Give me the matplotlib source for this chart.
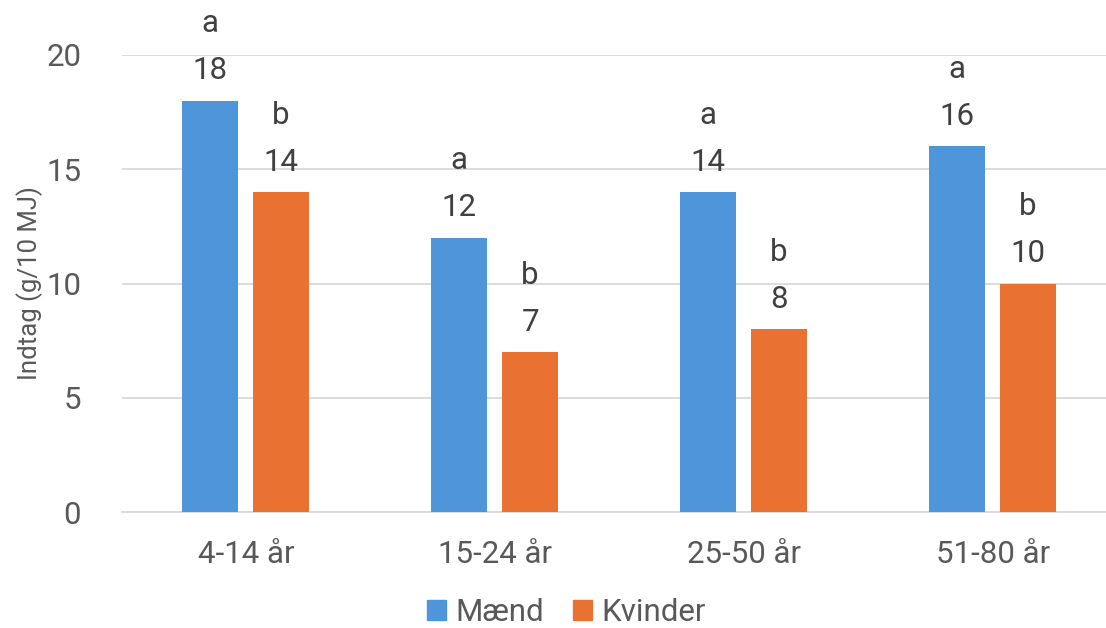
import matplotlib
matplotlib.use("Agg")
import matplotlib.pyplot as plt
from matplotlib.patches import Patch
import numpy as np

plt.rcParams['font.family'] = ['Roboto', 'DejaVu Sans']

categories = ["4-14 år", "15-24 år", "25-50 år", "51-80 år"]
maend = [18, 12, 14, 16]
kvinder = [14, 7, 8, 10]
maend_letters = ["a", "a", "a", "a"]
kvinder_letters = ["b", "b", "b", "b"]
yticks = [0, 5, 10, 15, 20]

blue = "#4F95DA"
orange = "#E97132"
text_col = "#404040"
tick_col = "#595959"
grid_col = "#D9D9D9"

W, H = 1106, 628
fig = plt.figure(figsize=(W / 100, H / 100), dpi=100)
ax = fig.add_axes([121.5 / W, 1 - 512 / H, 996 / W, (512 - 55) / H])

x = np.arange(len(categories))
w = 0.225
b1 = ax.bar(x - 0.144, maend, w, color=blue, zorder=3)
b2 = ax.bar(x + 0.141, kvinder, w, color=orange, zorder=3)

fs = 22.5
for bars, vals, letters in ((b1, maend, maend_letters), (b2, kvinder, kvinder_letters)):
    for rect, v, lt in zip(bars, vals, letters):
        cx = rect.get_x() + rect.get_width() / 2
        ax.annotate(str(v), (cx, v), xytext=(0, 30), textcoords='offset pixels',
                    ha='center', va='center', fontsize=fs, color=text_col,
                    annotation_clip=False)
        ax.annotate(lt, (cx, v), xytext=(0, 77), textcoords='offset pixels',
                    ha='center', va='center', fontsize=fs, color=text_col,
                    annotation_clip=False)

ax.set_xlim(-0.5, len(categories) - 0.5)
ax.set_ylim(0, 20)
ax.set_yticks(yticks)
ax.set_yticklabels([str(t) for t in yticks])
ax.set_xticks(x)
ax.set_xticklabels(categories)
ax.tick_params(axis='both', length=0, labelsize=fs, colors=tick_col)
ax.tick_params(axis='y', pad=29)
ax.tick_params(axis='x', pad=20)
ax.yaxis.grid(True, color=grid_col, linewidth=1.3, zorder=0)
ax.set_axisbelow(True)
for s in ("top", "right", "left"):
    ax.spines[s].set_visible(False)
ax.spines["bottom"].set_color(grid_col)
ax.spines["bottom"].set_linewidth(1.3)

ax.set_ylabel("Indtag (g/10 MJ)", fontsize=18.5, color=tick_col, labelpad=2)

handles = [Patch(color=blue, label="Mænd"), Patch(color=orange, label="Kvinder")]
leg = fig.legend(handles=handles, loc='center', bbox_to_anchor=(0.512, 0.025),
                 ncol=2, frameon=False, fontsize=fs, handlelength=0.6,
                 handleheight=0.6, handletextpad=0.3, columnspacing=0.95)
for t in leg.get_texts():
    t.set_color(tick_col)

fig.savefig("out.png", dpi=100)
